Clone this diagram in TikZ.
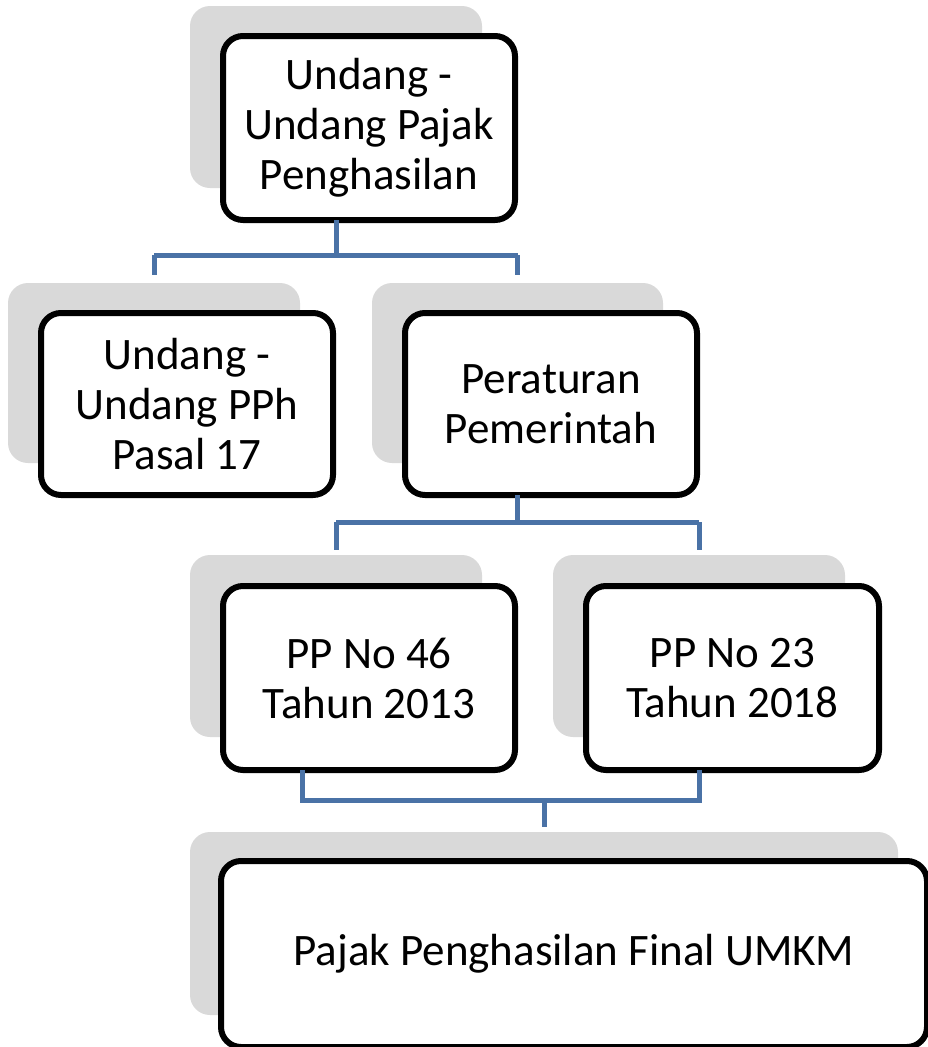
\documentclass[tikz,border=0pt]{standalone}
\usepackage{fontspec}
\setmainfont{Carlito}
\definecolor{shadowgray}{HTML}{D9D9D9}
\definecolor{linkblue}{HTML}{4A72A6}
\begin{document}
\begin{tikzpicture}[x=1pt,y=-1pt,
  shadowbox/.style={fill=shadowgray, rounded corners=20pt, inner sep=0pt, outer sep=0pt},
  mainbox/.style={draw=black, line width=6pt, fill=white, rounded corners=20pt, inner sep=0pt, outer sep=0pt,
    minimum width=292pt, minimum height=184pt, align=center, font=\fontsize{45}{50}\selectfont},
  link/.style={draw=linkblue, line width=5pt}]
\useasboundingbox (0,0) rectangle (928,1047);
\clip (0,0) rectangle (928,1047);
% shadows
\node[shadowbox, minimum width=292pt, minimum height=182pt] (tsh) at (336,97) {};
\node[shadowbox, minimum width=292pt, minimum height=180pt] (lsh) at (154,373) {};
\node[shadowbox, minimum width=291pt, minimum height=180pt] (rsh) at (517.5,373) {};
\node[shadowbox, minimum width=292pt, minimum height=182pt] (ash) at (336,646) {};
\node[shadowbox, minimum width=292pt, minimum height=182pt] (bsh) at (699,646) {};
\node[shadowbox, minimum width=708pt, minimum height=183pt] (fsh) at (544,923.5) {};
% boxes
\node[mainbox] (tbox) at (369,128) {Undang -\\Undang Pajak\\Penghasilan};
\node[mainbox, minimum height=182pt] (lbox) at (187,404) {Undang -\\Undang PPh\\Pasal 17};
\node[mainbox, minimum height=182pt] (rbox) at (551,404) {Peraturan\\Pemerintah};
\node[mainbox] (abox) at (369,678) {PP No 46\\Tahun 2013};
\node[mainbox, minimum width=293pt] (bbox) at (732.5,678) {PP No 23\\Tahun 2018};
\node[mainbox, minimum width=706pt, minimum height=186pt] (fbox) at (574,954) {Pajak Penghasilan Final UMKM};
% connectors
\coordinate (t1) at ([yshift=-35pt]tsh.center |- tbox.south);
\coordinate (tl) at (lsh.center |- t1);
\coordinate (tr) at (rsh.center |- t1);
\draw[link] (tsh.center |- tbox.south) -- (t1);
\draw[link] (tl) -- (tr);
\draw[link] (tl) -- ([yshift=8pt]lsh.north);
\draw[link] (tr) -- ([yshift=8pt]rsh.north);
\coordinate (r1) at ([yshift=-27pt]rsh.center |- rbox.south);
\coordinate (rl) at (ash.center |- r1);
\coordinate (rr) at (bsh.center |- r1);
\draw[link] (rsh.center |- rbox.south) -- (r1);
\draw[link] (rl) -- (rr);
\draw[link] (rl) -- ([yshift=5pt]ash.north);
\draw[link] (rr) -- ([yshift=5pt]bsh.north);
\coordinate (a1) at ([xshift=-67pt,yshift=-30pt]abox.south);
\coordinate (b1) at (bsh.center |- a1);
\coordinate (m1) at (fsh.center |- a1);
\draw[link] ([xshift=-67pt]abox.south) -- (a1) -- (b1) -- (bsh.center |- bbox.south);
\draw[link] (m1) -- ([yshift=5pt]fsh.north);
\end{tikzpicture}
\end{document}
